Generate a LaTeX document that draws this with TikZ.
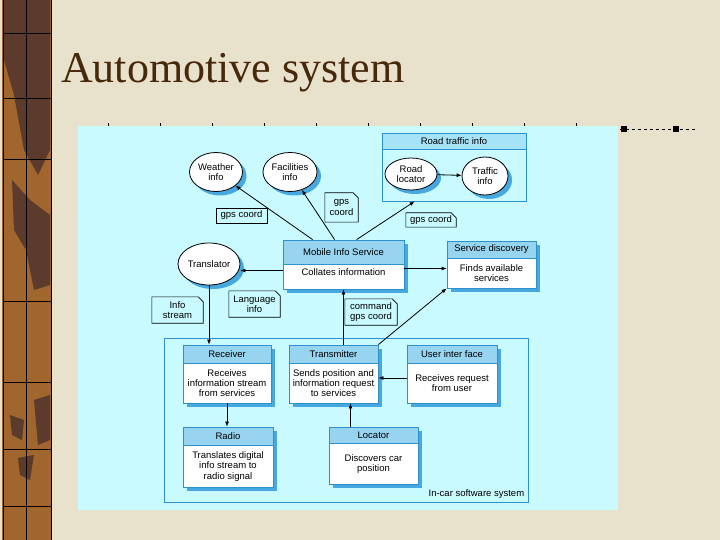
\documentclass[tikz,border=0pt]{standalone}
\usepackage{fontspec}
\setmainfont{Liberation Serif}
\newfontfamily\diagfont{Liberation Sans}
\usetikzlibrary{positioning,calc,shapes.geometric,shadows,arrows.meta}

\definecolor{paper}{RGB}{232,225,203}
\definecolor{strip}{RGB}{160,102,45}
\definecolor{stripdark}{RGB}{92,58,44}
\definecolor{titlec}{RGB}{72,40,10}
\definecolor{panelc}{RGB}{200,250,255}
\definecolor{boxline}{RGB}{45,145,205}
\definecolor{headc}{RGB}{150,212,240}
\definecolor{shadowc}{RGB}{70,168,222}
\definecolor{roadhead}{RGB}{165,228,248}

\tikzset{
    dtext/.style={font=\diagfont\fontsize{9.5}{10.2}\selectfont, align=center, inner sep=0pt},
    infobox/.style={draw=boxline, fill=white, line width=.8pt, inner sep=0pt,
        drop shadow={shadow xshift=4pt, shadow yshift=-4pt, fill=shadowc, opacity=1}},
    boxhead/.style={dtext, draw=boxline, fill=headc, line width=.8pt, anchor=north},
    source/.style={dtext, ellipse, draw=black, fill=white, line width=.8pt,
        drop shadow={shadow xshift=4pt, shadow yshift=-4pt, fill=shadowc, opacity=1}},
    note/.style={dtext, minimum height=15},
    noteline/.style={line width=.6pt},
    link/.style={line width=.8pt, -{Latex[length=5pt,width=4pt]}},
}

\begin{document}
\begin{tikzpicture}[x=1pt, y=-1pt]
    \useasboundingbox (0,0) rectangle (720,540);
    % slide and left strip
    \fill[paper] (0,0) rectangle (720,540);
    \fill[strip] (2,0) rectangle (52,540);
    \fill[stripdark] (4,0) -- (50,0) -- (50,150) -- (38,175) -- (24,150) -- (14,95) -- (4,60) -- cycle;
    \fill[stripdark] (12,180) -- (30,200) -- (50,215) -- (50,285) -- (34,290) -- (26,250) -- (14,230) -- cycle;
    \fill[stripdark] (34,400) -- (50,395) -- (50,440) -- (38,445) -- cycle;
    \fill[stripdark] (10,415) -- (24,420) -- (22,440) -- (12,435) -- cycle;
    \fill[stripdark] (18,458) -- (34,455) -- (30,480) -- (20,475) -- cycle;
    \draw[line width=1pt] (3,0) -- (3,540) (51,0) -- (51,540);
    \draw[line width=.6pt] (26,0) -- (26,540);
    \foreach \y in {33,98,159,301,382,449,506}
        \draw[line width=.6pt] (3,\y) -- (51,\y);
    \node[anchor=base west, text=titlec, font=\fontsize{44}{48}\selectfont, inner sep=0pt] (title) at (61,83) {Automotive system};

    % diagram panel
    \fill[panelc] (78,126) rectangle (618,510);
    \foreach \x in {108,160,...,576}
        \draw[line width=.8pt] (\x,123) -- (\x,126);
    \draw[dashed, line width=.8pt] (620,129) -- (697,129);
    \fill (621,126) rectangle (627,132);
    \fill (673,126) rectangle (679,132);

    % road traffic info
    \node[draw=boxline, line width=.8pt, minimum width=144, minimum height=68, inner sep=0pt] (road) at (454,167) {};
    \node[boxhead, fill=roadhead, minimum width=144, minimum height=16] (roadh) at (road.north) {Road traffic info};
    \node[source, minimum width=52, minimum height=32] (rloc) at (411,174) {Road\\locator};
    \node[source, minimum width=46, minimum height=38] (tinfo) at (485,176) {Traffic\\info};

    % information sources
    \node[source, minimum width=53, minimum height=39] (weather) at (216,172) {Weather\\info};
    \node[source, minimum width=54, minimum height=39] (facil) at (290,172) {Facilities\\info};
    \node[source, minimum width=62, minimum height=42] (transl) at (209,264) {Translator};

    % mobile info service
    \node[infobox, minimum width=121, minimum height=49] (mis) at (343.5,264.5) {};
    \node[boxhead, minimum width=121, minimum height=24] (mish) at (mis.north) {Mobile Info Service};
    \node[dtext, below=4pt of mish] (mist) {Collates information};

    % service discovery
    \node[infobox, minimum width=89, minimum height=47] (sdisc) at (491.5,264.5) {};
    \node[boxhead, minimum width=89, minimum height=17] (sdisch) at (sdisc.north) {Service discovery};
    \node[dtext] (sdisct) at ($(sdisch.south)!.5!(sdisc.south)$) {Finds available\\services};

    % in-car software system
    \node[draw=boxline, line width=.8pt, minimum width=364, minimum height=164, inner sep=0pt] (incar) at (346,420) {};
    \node[dtext, anchor=south east] (incarl) at ([xshift=-4pt,yshift=4pt]incar.south east) {In-car software system};

    \node[infobox, minimum width=88, minimum height=58] (recv) at (227,374) {};
    \node[boxhead, minimum width=88, minimum height=18] (recvh) at (recv.north) {Receiver};
    \node[dtext] (recvt) at ($(recvh.south)!.5!(recv.south)$) {Receives\\information stream\\from services};

    \node[infobox, minimum width=89, minimum height=58] (tx) at (333.5,374) {};
    \node[boxhead, minimum width=89, minimum height=18] (txh) at (tx.north) {Transmitter};
    \node[dtext] (txt) at ($(txh.south)!.5!(tx.south)$) {Sends position and\\information request\\to services};

    \node[infobox, minimum width=90, minimum height=58] (ui) at (452,374) {};
    \node[boxhead, minimum width=90, minimum height=18] (uih) at (ui.north) {User inter face};
    \node[dtext] (uit) at ($(uih.south)!.5!(ui.south)$) {Receives request\\from user};

    \node[infobox, minimum width=90, minimum height=60] (radio) at (228,457) {};
    \node[boxhead, minimum width=90, minimum height=18] (radioh) at (radio.north) {Radio};
    \node[dtext] (radiot) at ($(radioh.south)!.5!(radio.south)$) {Translates digital\\info stream to\\radio signal};

    \node[infobox, minimum width=89, minimum height=57] (loc) at (373.5,455.5) {};
    \node[boxhead, minimum width=89, minimum height=16] (loch) at (loc.north) {Locator};
    \node[dtext] (loct) at ($(loch.south)!.5!(loc.south)$) {Discovers car\\position};

    % data notes
    \node[note, draw, line width=.6pt, minimum width=51] (gpsw) at (241.5,215.5) {gps coord};
    \draw[line width=1.2pt] (gpsw.north east) -- (gpsw.south east) -- (gpsw.south west);
    \node[note, minimum width=33, minimum height=29] (gpsf) at (341.5,207.5) {gps\\coord};
    \node[note, minimum width=50, minimum height=14] (gpsr) at (431,220) {gps coord};
    \node[note, minimum width=51, minimum height=26] (infost) at (177.5,310) {Info\\stream};
    \node[note, minimum width=51, minimum height=26] (langinfo) at (254.5,304) {Language\\info};
    \node[note, minimum width=52, minimum height=26] (cmdgps) at (371,312) {command\\gps coord};
    \foreach \n in {gpsf,gpsr,infost,langinfo,cmdgps}
        \draw[noteline] (\n.south west) -- (\n.north west) -- ([xshift=-5pt]\n.north east)
            -- ([yshift=-5pt]\n.north east) -- (\n.south east) -- cycle;

    % connectors
    \coordinate (misw) at ([yshift=-6pt]mis.west);
    \coordinate (mise) at ([yshift=-4pt]mis.east);
    \coordinate (uiw) at ([yshift=-4pt]ui.west);
    \coordinate (locup) at ([xshift=-23pt]loc.north);
    \draw[link] ([xshift=30pt]mis.north west) -- (weather);
    \draw[link] ([xshift=52pt]mis.north west) -- (facil);
    \draw[link] ([xshift=74pt]mis.north west) -- ([xshift=33pt]road.south west);
    \draw[link] (rloc) -- (tinfo);
    \draw[link] (misw) -- (misw -| transl.east);
    \draw[link] (mise) -- (mise -| sdisc.west);
    \draw[link] (transl.south) -- (transl.south |- recv.north);
    \draw[link] (tx.north -| mis.south) -- (mis.south);
    \draw[link] (tx.north east) -- (sdisc.south west);
    \draw[link] (uiw) -- (uiw -| tx.east);
    \draw[link] (recv.south) -- (recv.south |- radio.north);
    \draw[link] (locup) -- (locup |- tx.south);
\end{tikzpicture}
\end{document}
